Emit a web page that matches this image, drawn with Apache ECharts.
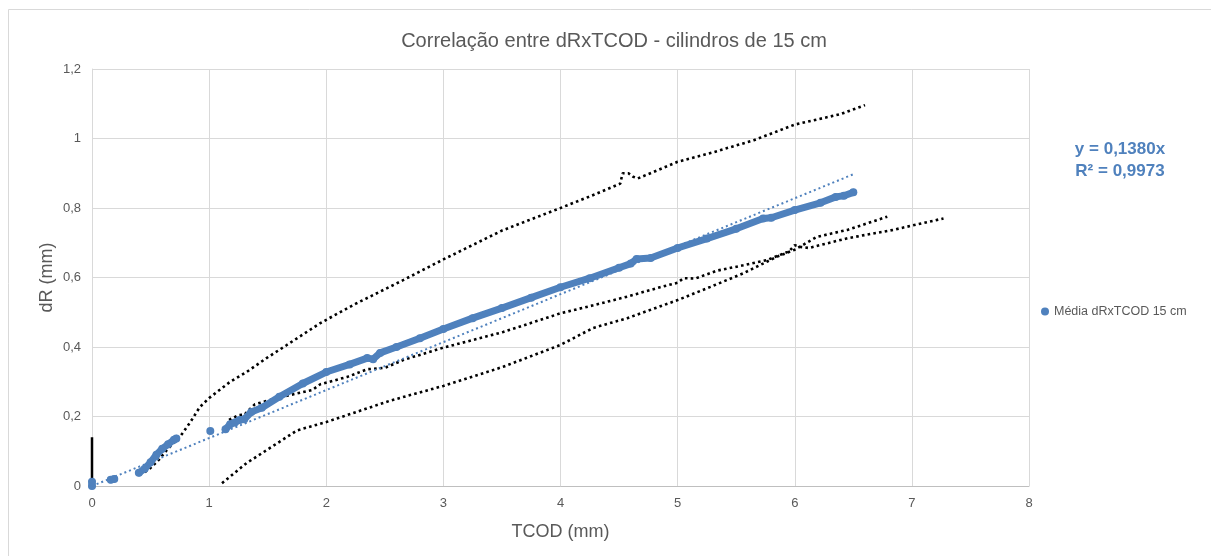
<!DOCTYPE html>
<html><head><meta charset="utf-8">
<script src="https://cdn.jsdelivr.net/npm/echarts@6/dist/echarts.min.js"></script>
<style>html,body{margin:0;padding:0;background:#fff}#c{width:1211px;height:556px}</style>
</head><body><div id="c"></div>
<script>
var chartTitle = 'Correlação entre dRxTCOD - cilindros de 15 cm';
var xName = 'TCOD (mm)';
var yName = 'dR (mm)';
var seriesName = 'Média dRxTCOD 15 cm';
var trendText = ['y = 0,1380x', 'R² = 0,9973'];
var trendSlope = 0.1380;
var trendXmax = 6.5;

// Média (blue) – null breaks separate the gaps in the data
var media = [[0,0],[0,0.012],[null,null],
  [0.16,0.018],[0.19,0.02],[null,null],
  [0.4,0.038],[0.45,0.05],[0.5,0.068],[0.55,0.09],[0.6,0.107],[0.65,0.12],[0.7,0.133],[0.72,0.137],[null,null],
  [1.01,0.158],[null,null],
  [1.14,0.163],[1.18,0.178],[1.22,0.183],[1.26,0.19],[1.3,0.192],[1.36,0.213],[1.45,0.225],[1.6,0.257],
  [1.8,0.295],[2.0,0.328],[2.2,0.35],[2.35,0.368],[2.4,0.365],[2.46,0.383],[2.6,0.4],[2.8,0.425],
  [3.0,0.452],[3.25,0.483],[3.5,0.512],[3.75,0.542],[4.0,0.572],[4.25,0.598],[4.5,0.628],[4.6,0.64],
  [4.65,0.653],[4.77,0.656],[5.0,0.685],[5.25,0.712],[5.5,0.74],[5.73,0.77],[5.8,0.772],[6.0,0.794],
  [6.22,0.815],[6.35,0.832],[6.42,0.835],[6.5,0.845]];

// individual specimens (black dotted)
var zeroStack = [[0,0],[0,0.14]];
var cp1 = [[0.45,0.04],[0.5,0.052],[0.57,0.075],[0.64,0.104],[0.7,0.125],[0.75,0.141],[0.84,0.184],[0.92,0.227],
  [1.0,0.253],[1.18,0.3],[1.32,0.328],[1.49,0.368],[1.66,0.405],[1.95,0.469],[2.26,0.526],[2.66,0.593],
  [3.0,0.652],[3.5,0.735],[4.0,0.80],[4.3,0.84],[4.51,0.87],[4.53,0.9],[4.58,0.9],[4.62,0.89],[4.66,0.885],
  [5.0,0.933],[5.3,0.96],[5.65,0.995],[6.0,1.04],[6.39,1.07],[6.6,1.096]];
var cp2 = [[1.17,0.19],[1.25,0.204],[1.3,0.205],[1.39,0.235],[1.6,0.255],[1.88,0.276],[1.95,0.293],[2.18,0.314],
  [2.35,0.336],[2.5,0.34],[2.66,0.363],[3.0,0.398],[3.51,0.443],[4.0,0.497],[4.28,0.52],[4.57,0.545],
  [4.85,0.572],[5.0,0.585],[5.05,0.598],[5.15,0.597],[5.34,0.62],[5.56,0.635],[5.76,0.65],[5.95,0.675],
  [6.0,0.693],[6.05,0.688],[6.12,0.685],[6.45,0.713],[6.84,0.737],[7.27,0.77]];
var cp3 = [[1.11,0.008],[1.32,0.066],[1.6,0.127],[1.75,0.16],[2.0,0.184],[2.31,0.219],[2.54,0.245],[3.0,0.288],
  [3.51,0.343],[4.0,0.406],[4.28,0.455],[4.57,0.483],[5.0,0.535],[5.28,0.573],[5.56,0.612],[5.85,0.66],
  [6.0,0.68],[6.19,0.717],[6.45,0.737],[6.79,0.775]];

var BLUE = '#4f81bd', GREY = '#595959', FONT = 'Liberation Sans';
function fmt(v){ return String(+v.toFixed(1)).replace('.', ','); }
function dotted(name, data){
  return {type:'line', name:name, data:data, showSymbol:false, symbol:'none', silent:true, z:3,
    lineStyle:{color:'#000', width:2.6, type:[2.6,3.2], cap:'butt'}};
}
var chart = echarts.init(document.getElementById('c'), null, {renderer:'canvas'});
chart.setOption({
  animation:false,
  backgroundColor:'#fff',
  textStyle:{fontFamily:FONT},
  title:{text:chartTitle, left:609, textAlign:'center', top:26, textStyle:{color:GREY, fontWeight:'normal', fontSize:20, fontFamily:FONT}},
  grid:{left:92, right:182, top:69, bottom:70},
  legend:{data:[{name:seriesName, icon:'circle'}], left:1036, top:300, itemWidth:8, itemHeight:8, itemGap:5,
    textStyle:{color:GREY, fontSize:12.5, fontFamily:FONT}},
  xAxis:{type:'value', min:0, max:8, interval:1, name:xName, nameLocation:'middle', nameGap:37,
    nameTextStyle:{color:GREY, fontSize:18, fontFamily:FONT},
    axisLine:{show:true, lineStyle:{color:'#bfbfbf', width:1}}, axisTick:{show:false},
    axisLabel:{color:GREY, fontSize:13, margin:11, formatter:fmt},
    splitLine:{show:true, lineStyle:{color:'#d9d9d9', width:1}}},
  yAxis:{type:'value', min:0, max:1.2, interval:0.2, name:yName, nameLocation:'middle', nameGap:36, nameMoveOverlap:false,
    nameTextStyle:{color:GREY, fontSize:18, fontFamily:FONT},
    axisLine:{show:true, lineStyle:{color:'#d9d9d9', width:1}}, axisTick:{show:false},
    axisLabel:{color:GREY, fontSize:13, margin:11, formatter:fmt},
    splitLine:{show:true, lineStyle:{color:'#d9d9d9', width:1}}},
  graphic:[
    {type:'rect', shape:{x:8.5, y:9.5, width:1400, height:800}, style:{fill:'none', stroke:'#d9d9d9', lineWidth:1}, z:-1, silent:true},
    {type:'text', x:1120, y:141, style:{text:trendText[0], fill:BLUE, font:'bold 17px '+FONT, textAlign:'center'}},
    {type:'text', x:1120, y:163, style:{text:trendText[1], fill:BLUE, font:'bold 17px '+FONT, textAlign:'center'}}
  ],
  series:[
    {type:'line', name:'zero', data:zeroStack, showSymbol:false, symbol:'none', silent:true, z:3,
      lineStyle:{color:'#000', width:2.5}},
    dotted('cp1', cp1), dotted('cp2', cp2), dotted('cp3', cp3),
    {type:'line', name:seriesName, data:media, z:4, connectNulls:false, symbol:'circle', symbolSize:8,
      showSymbol:true, showAllSymbol:true, itemStyle:{color:BLUE}, lineStyle:{color:BLUE, width:7, cap:'round', join:'round'}},
    {type:'line', name:'trend', data:[[0,0],[trendXmax, trendSlope*trendXmax]], showSymbol:false, symbol:'none', silent:true, z:5,
      lineStyle:{color:BLUE, width:2, type:[2,3], cap:'butt'}}
  ]
});
</script></body></html>
